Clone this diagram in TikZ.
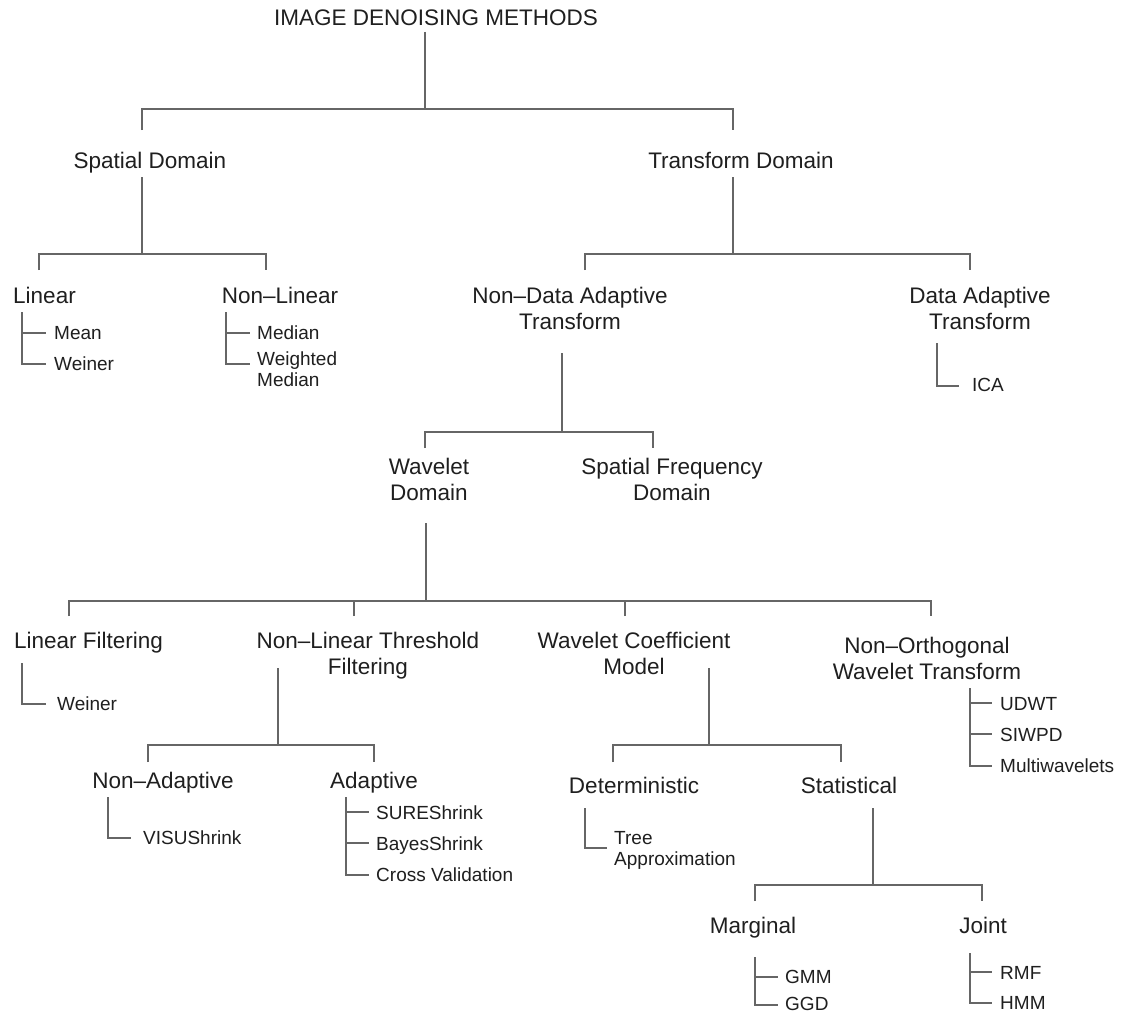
\documentclass[tikz,border=0pt]{standalone}
\usepackage{fontspec}
\setmainfont{Liberation Sans}
\newcommand{\twoc}[2]{\begin{tabular}[t]{@{}c@{}}#1\\#2\end{tabular}}
\newcommand{\twol}[2]{\begin{tabular}[t]{@{}l@{}}#1\\#2\end{tabular}}
\begin{document}
\begin{tikzpicture}[x=1pt,y=-1pt,
  mainlbl/.style={font=\fontsize{22.5}{26}\selectfont, inner sep=0pt, anchor=base, text=black!88},
  sublbl/.style={font=\fontsize{19}{21.5}\selectfont, inner sep=0pt, anchor=base west, text=black!88},
  conn/.style={draw=black!60, line width=1.3pt}]
\useasboundingbox[fill=white] (0,0) rectangle (1126,1014);

% ---- main labels
\node[mainlbl] (root) at (436,26) {IMAGE DENOISING METHODS};
\node[mainlbl] (spatial) at (150,168) {Spatial Domain};
\node[mainlbl] (transform) at (741,168) {Transform Domain};
\node[mainlbl] (linear) at (44.5,303) {Linear};
\node[mainlbl] (nonlinear) at (280,303) {Non--Linear};
\node[mainlbl] (nda) at (570,303) {\twoc{Non--Data Adaptive}{Transform}};
\node[mainlbl] (da) at (980,303) {\twoc{Data Adaptive}{Transform}};
\node[mainlbl] (wd) at (429,474) {\twoc{Wavelet}{Domain}};
\node[mainlbl] (sfd) at (672,474) {\twoc{Spatial Frequency}{Domain}};
\node[mainlbl] (lf) at (88.5,648) {Linear Filtering};
\node[mainlbl] (nlt) at (368,648) {\twoc{Non--Linear Threshold}{Filtering}};
\node[mainlbl] (wcm) at (634,648) {\twoc{Wavelet Coefficient}{Model}};
\node[mainlbl] (now) at (927,653) {\twoc{Non--Orthogonal}{Wavelet Transform}};
\node[mainlbl] (na) at (163,788) {Non--Adaptive};
\node[mainlbl] (ad) at (374,788) {Adaptive};
\node[mainlbl] (det) at (634,793) {Deterministic};
\node[mainlbl] (stat) at (849,793) {Statistical};
\node[mainlbl] (marg) at (753,933) {Marginal};
\node[mainlbl] (joint) at (983,933) {Joint};

% ---- leaf labels
\node[sublbl] (mean) at (54,339) {Mean};
\node[sublbl] (weinerA) at (54,370) {Weiner};
\node[sublbl] (median) at (257,339) {Median};
\node[sublbl] (wmedian) at (257,365) {\twol{Weighted}{Median}};
\node[sublbl] (ica) at (972,391) {ICA};
\node[sublbl] (weinerB) at (57,710) {Weiner};
\node[sublbl] (visu) at (143,844) {VISUShrink};
\node[sublbl] (sure) at (376,819) {SUREShrink};
\node[sublbl] (bayes) at (376,850) {BayesShrink};
\node[sublbl] (cross) at (376,881) {Cross Validation};
\node[sublbl] (udwt) at (1000,710) {UDWT};
\node[sublbl] (siwpd) at (1000,741) {SIWPD};
\node[sublbl] (multi) at (1000,772) {Multiwavelets};
\node[sublbl] (tree) at (614,844) {\twol{Tree}{Approximation}};
\node[sublbl] (gmm) at (785,983) {GMM};
\node[sublbl] (ggd) at (785,1010) {GGD};
\node[sublbl] (rmf) at (1000,979) {RMF};
\node[sublbl] (hmm) at (1000,1009) {HMM};

% ---- bracket coordinates
\coordinate (rS) at (425,32);  \coordinate (rJ) at (425,109);
\coordinate (rA) at (142,130); \coordinate (rB) at (733,130);
\coordinate (sS) at (142,177); \coordinate (sJ) at (142,254);
\coordinate (sA) at (39,270);  \coordinate (sB) at (266,270);
\coordinate (tS) at (733,177); \coordinate (tJ) at (733,254);
\coordinate (tA) at (585,270); \coordinate (tB) at (970,270);
\coordinate (nS) at (562,353); \coordinate (nJ) at (562,432);
\coordinate (nA) at (425,448); \coordinate (nB) at (653,448);
\coordinate (wS) at (426,523); \coordinate (wJ) at (426,601);
\coordinate (wA) at (69,616);  \coordinate (wB) at (354,616);
\coordinate (wC) at (625,616); \coordinate (wD) at (931,616);
\coordinate (ntS) at (278,668); \coordinate (ntJ) at (278,745);
\coordinate (ntA) at (148,762); \coordinate (ntB) at (374,762);
\coordinate (wcS) at (709,668); \coordinate (wcJ) at (709,745);
\coordinate (wcA) at (613,762); \coordinate (wcB) at (841,762);
\coordinate (stS) at (873,808); \coordinate (stJ) at (873,885);
\coordinate (stA) at (755,901); \coordinate (stB) at (982,901);

\draw[conn] (rS) -- (rJ);   \draw[conn] (rA) |- (rJ) -| (rB);
\draw[conn] (sS) -- (sJ);   \draw[conn] (sA) |- (sJ) -| (sB);
\draw[conn] (tS) -- (tJ);   \draw[conn] (tA) |- (tJ) -| (tB);
\draw[conn] (nS) -- (nJ);   \draw[conn] (nA) |- (nJ) -| (nB);
\draw[conn] (wS) -- (wJ);   \draw[conn] (wA) |- (wJ) -| (wD);
\draw[conn] (wB) -- (wB |- wJ); \draw[conn] (wC) -- (wC |- wJ);
\draw[conn] (ntS) -- (ntJ); \draw[conn] (ntA) |- (ntJ) -| (ntB);
\draw[conn] (wcS) -- (wcJ); \draw[conn] (wcA) |- (wcJ) -| (wcB);
\draw[conn] (stS) -- (stJ); \draw[conn] (stA) |- (stJ) -| (stB);

% ---- list coordinates
\coordinate (lT) at (22,312);   \coordinate (lE1) at (46,333);  \coordinate (lE2) at (46,364);
\coordinate (nlT) at (226,312); \coordinate (nlE1) at (250,333); \coordinate (nlE2) at (250,364);
\coordinate (iT) at (937,343);  \coordinate (iE) at (959,386);
\coordinate (lfT) at (22,663);  \coordinate (lfE) at (46,704);
\coordinate (naT) at (108,797); \coordinate (naE) at (131,838);
\coordinate (adT) at (346,797); \coordinate (adE1) at (369,812); \coordinate (adE2) at (369,843); \coordinate (adE3) at (369,875);
\coordinate (noT) at (970,688); \coordinate (noE1) at (992,703); \coordinate (noE2) at (992,734); \coordinate (noE3) at (992,766);
\coordinate (dT) at (585,808);  \coordinate (dE) at (607,848);
\coordinate (mT) at (755,957);  \coordinate (mE1) at (778,977);  \coordinate (mE2) at (778,1005);
\coordinate (jT) at (970,953);  \coordinate (jE1) at (992,972);  \coordinate (jE2) at (992,1003);

\draw[conn] (lT) |- (lE2);   \draw[conn] (lT |- lE1) -- (lE1);
\draw[conn] (nlT) |- (nlE2); \draw[conn] (nlT |- nlE1) -- (nlE1);
\draw[conn] (iT) |- (iE);
\draw[conn] (lfT) |- (lfE);
\draw[conn] (naT) |- (naE);
\draw[conn] (adT) |- (adE3); \draw[conn] (adT |- adE1) -- (adE1); \draw[conn] (adT |- adE2) -- (adE2);
\draw[conn] (noT) |- (noE3); \draw[conn] (noT |- noE1) -- (noE1); \draw[conn] (noT |- noE2) -- (noE2);
\draw[conn] (dT) |- (dE);
\draw[conn] (mT) |- (mE2);   \draw[conn] (mT |- mE1) -- (mE1);
\draw[conn] (jT) |- (jE2);   \draw[conn] (jT |- jE1) -- (jE1);
\end{tikzpicture}
\end{document}
